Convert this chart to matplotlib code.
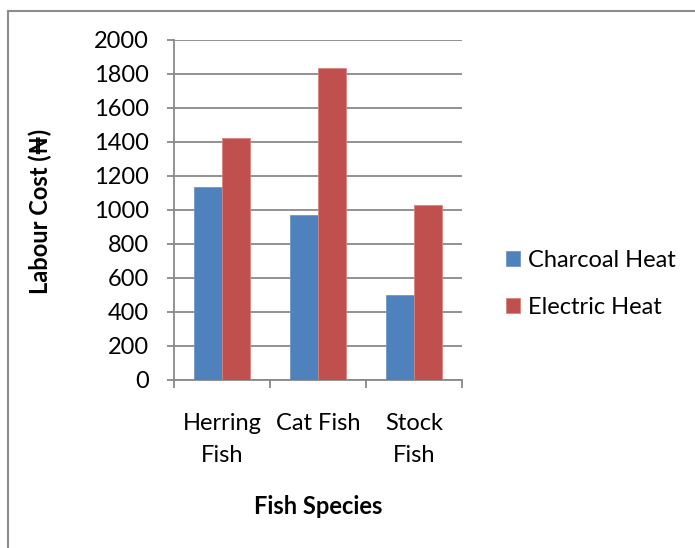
import matplotlib
matplotlib.use("Agg")
import matplotlib.pyplot as plt
from matplotlib.lines import Line2D
import numpy as np

plt.rcParams['font.family'] = ['Lato', 'DejaVu Sans']

species = ["Herring\nFish", "Cat Fish", "Stock\nFish"]
charcoal_heat = [1135, 968, 500]
electric_heat = [1425, 1835, 1030]
series_names = ["Charcoal Heat", "Electric Heat"]
y_ticks = list(range(0, 2001, 200))

blue = "#4F81BD"
red = "#C0504D"
grid_gray = "#898989"
fs = 17

W, H = 695, 548
fig = plt.figure(figsize=(W / 100, H / 100), dpi=100)
ax = fig.add_axes([174 / W, 1 - 380 / H, 288 / W, 340 / H])

x = np.arange(len(species)) + 0.5
bw = 0.289
ax.bar(x - bw / 2, charcoal_heat, bw, color=blue, edgecolor="#6E97C8",
       linewidth=0.6, label=series_names[0], zorder=3)
ax.bar(x + bw / 2, electric_heat, bw, color=red, edgecolor="#D7827F",
       linewidth=0.6, label=series_names[1], zorder=3)

ax.set_xlim(0, len(species))
ax.set_ylim(0, 2000)
ax.set_yticks(y_ticks)
ax.set_yticklabels([str(v) for v in y_ticks], fontsize=fs)
ax.yaxis.grid(True, color=grid_gray, linewidth=1.3, zorder=0)

ax.set_xticks(np.arange(len(species) + 1))
ax.set_xticklabels([])
ax.set_xticks(x, minor=True)
ax.set_xticklabels(species, minor=True, fontsize=fs, linespacing=1.6)
ax.tick_params(axis="x", which="minor", length=0, pad=24)
ax.tick_params(axis="x", which="major", length=6, width=1.3, color=grid_gray)
ax.tick_params(axis="y", length=5, width=1.3, color=grid_gray, pad=13)

for side in ("top", "right"):
    ax.spines[side].set_visible(False)
for side in ("left", "bottom"):
    ax.spines[side].set_color(grid_gray)
    ax.spines[side].set_linewidth(1.3)

fig.text(40 / W, 1 - 211 / H, "Labour Cost (₦)", rotation=90, fontsize=fs,
         fontweight="bold", ha="center", va="center")
fig.text(318 / W, 1 - 507 / H, "Fish Species", fontsize=fs,
         fontweight="bold", ha="center", va="center")

fig.legend(loc="center left", bbox_to_anchor=(494 / W, 1 - 284 / H),
           frameon=False, fontsize=fs, handlelength=0.6, handleheight=0.6,
           handletextpad=0.35, labelspacing=1.1, borderpad=0)

# frame lines along the top and left edges
fig.add_artist(Line2D([8 / W, 1], [1 - 11 / H, 1 - 11 / H],
                      transform=fig.transFigure, color="#8C8C8C", linewidth=1.5))
fig.add_artist(Line2D([8 / W, 8 / W], [0, 1 - 11 / H],
                      transform=fig.transFigure, color="#8C8C8C", linewidth=1.5))

fig.savefig("out.png", dpi=100, facecolor="white")
